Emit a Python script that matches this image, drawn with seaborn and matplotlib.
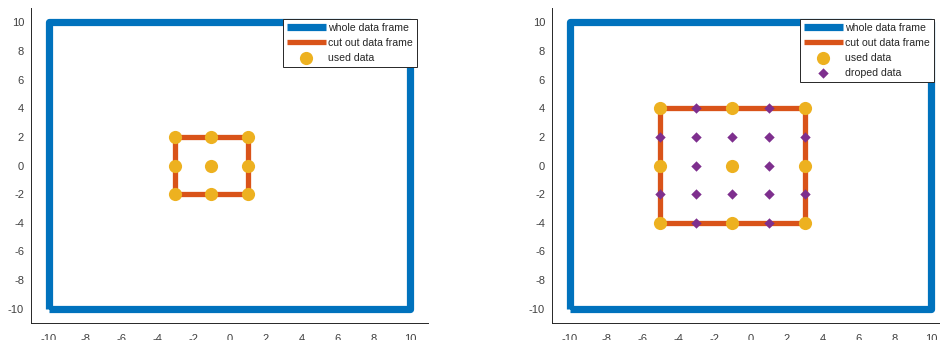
import matplotlib
matplotlib.use("Agg")
import matplotlib.pyplot as plt
import seaborn as sns
import pandas as pd

# Outer frame corners (closed path)
whole_x = [-10, -10, 10, 10, -10]
whole_y = [-10, 10, 10, -10, -10]

# Left panel: cut-out frame and the points that are kept
cut1_x = [-3, -3, 1, 1, -3]
cut1_y = [-2, 2, 2, -2, -2]
used1_x = [-3, -1, 1, -3, -1, 1, -3, -1, 1]
used1_y = [2, 2, 2, 0, 0, 0, -2, -2, -2]

# Right panel: larger cut-out frame, kept points and dropped points
cut2_x = [-5, -5, 3, 3, -5]
cut2_y = [-4, 4, 4, -4, -4]
used2_x = [-5, -1, 3, -5, -1, 3, -5, -1, 3]
used2_y = [4, 4, 4, 0, 0, 0, -4, -4, -4]
drop_x = [-3, 1,
          -5, -3, -1, 1, 3,
          -3, 1,
          -5, -3, -1, 1, 3,
          -3, 1]
drop_y = [4, 4,
          2, 2, 2, 2, 2,
          0, 0,
          -2, -2, -2, -2, -2,
          -4, -4]

ticks = [-10, -8, -6, -4, -2, 0, 2, 4, 6, 8, 10]

BLUE = "#0072BD"
ORANGE = "#D95319"
YELLOW = "#EDB120"
PURPLE = "#7E2F8E"
AXIS = "#262626"
TICKTEXT = "#404040"

sns.set_style("white")
plt.rcParams["font.family"] = ["Liberation Sans", "DejaVu Sans"]
plt.rcParams["axes.unicode_minus"] = False

fig = plt.figure(figsize=(9.4, 3.4), dpi=100)
W, H = 940, 340
ax1 = fig.add_axes([31 / W, 17 / H, 397 / W, 315 / H])
ax2 = fig.add_axes([552 / W, 17 / H, 397 / W, 315 / H])


def frame(ax, xs, ys, color, lw, label):
    df = pd.DataFrame({"x": xs, "y": ys})
    sns.lineplot(data=df, x="x", y="y", sort=False, estimator=None, ax=ax,
                 color=color, linewidth=lw, label=label,
                 solid_joinstyle="round", solid_capstyle="butt")


def points(ax, xs, ys, color, marker, size, label):
    df = pd.DataFrame({"x": xs, "y": ys})
    sns.scatterplot(data=df, x="x", y="y", ax=ax, color=color, marker=marker,
                    s=size, linewidth=0, label=label, zorder=3)


panels = [
    (ax1, cut1_x, cut1_y, used1_x, used1_y, None, None, 0.972),
    (ax2, cut2_x, cut2_y, used2_x, used2_y, drop_x, drop_y, 0.962),
]

for ax, cx, cy, ux, uy, dx, dy, lx in panels:
    frame(ax, whole_x, whole_y, BLUE, 5.2, "whole data frame")
    frame(ax, cx, cy, ORANGE, 3.8, "cut out data frame")
    points(ax, ux, uy, YELLOW, "o", 90, "used data")
    if dx is not None:
        points(ax, dx, dy, PURPLE, "D", 28, "droped data")

    ax.set_xlim(-11, 11)
    ax.set_ylim(-11, 11)
    ax.set_xticks(ticks)
    ax.set_yticks(ticks)
    ax.set_xlabel("")
    ax.set_ylabel("")
    ax.tick_params(direction="in", length=3.5, width=0.7, color=AXIS,
                   labelcolor=TICKTEXT, labelsize=8)
    ax.tick_params(axis="x", pad=8)
    ax.tick_params(axis="y", pad=5)
    for side in ("top", "right"):
        ax.spines[side].set_visible(False)
    for side in ("left", "bottom"):
        ax.spines[side].set_color(AXIS)
        ax.spines[side].set_linewidth(0.7)

    leg = ax.legend(loc="upper right", bbox_to_anchor=(lx, 0.965),
                    borderaxespad=0, fontsize=7.6, fancybox=False,
                    framealpha=1, edgecolor=AXIS, handlelength=3.7,
                    handletextpad=0.25, labelspacing=0.48, borderpad=0.35,
                    markerscale=1.0)
    leg.get_frame().set_linewidth(0.7)
    leg.set_zorder(10)

fig.savefig("out.png", dpi=100)
